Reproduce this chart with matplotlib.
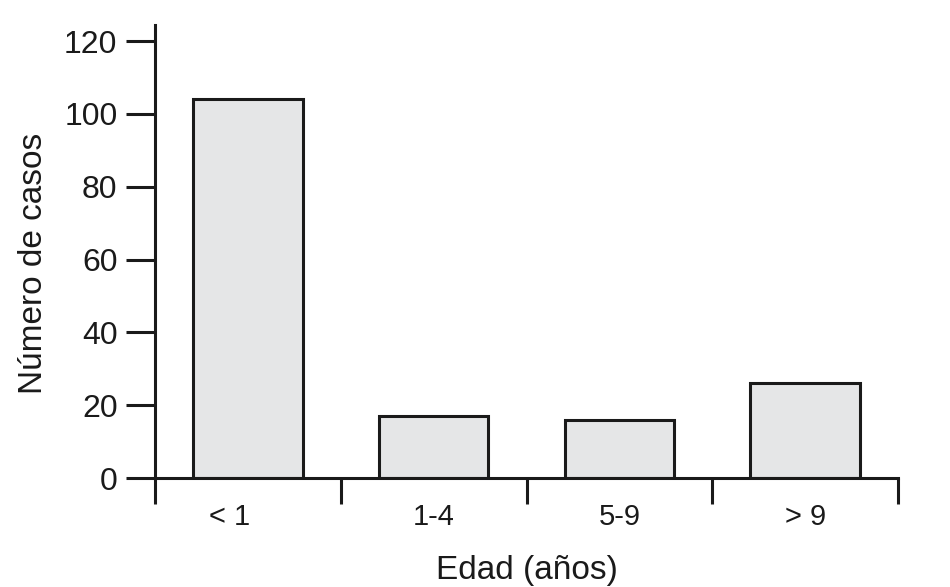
import matplotlib
matplotlib.use("Agg")
import matplotlib.pyplot as plt
import matplotlib.transforms as mtransforms
from matplotlib.ticker import FixedLocator

plt.rcParams['font.family'] = ['Liberation Sans', 'DejaVu Sans']

# data
categories = ['< 1', '1-4', '5-9', '> 9']
casos = [104, 17, 16, 26]

fig = plt.figure(figsize=(9.5, 5.87), dpi=100)
ax = fig.add_axes([155/950, 1-478/587, (898-155)/950, (478-25)/587])

x = range(len(categories))
ax.bar(x, casos, width=0.59, color='#e5e6e7', edgecolor='#1a1a1a', linewidth=2.2)

ax.set_xlim(-0.5, 3.5)
ax.set_ylim(0, 124.4)

ax.spines['top'].set_visible(False)
ax.spines['right'].set_visible(False)
for s in ('left', 'bottom'):
    ax.spines[s].set_linewidth(2.2)
    ax.spines[s].set_color('#1a1a1a')

ax.set_yticks(range(0, 121, 20))
ax.tick_params(axis='y', length=21, width=2.2, color='#1a1a1a', pad=6,
               labelsize=23, labelcolor='#1a1a1a')

ax.set_xticks(list(x))
ax.set_xticklabels(categories)
ax.tick_params(axis='x', which='major', length=0, pad=18, labelsize=21,
               labelcolor='#1a1a1a')
ax.xaxis.set_minor_locator(FixedLocator([-0.5, 0.5, 1.5, 2.5, 3.5]))
ax.tick_params(axis='x', which='minor', length=19, width=2.2, color='#1a1a1a')

# the first label sits a bit left of its bar in the original
lbl = ax.get_xticklabels()[0]
lbl.set_transform(lbl.get_transform() +
                  mtransforms.ScaledTranslation(-0.18, 0, fig.dpi_scale_trans))

ax.set_xlabel('Edad (años)', fontsize=24, color='#1a1a1a', labelpad=17)
ax.set_ylabel('Número de casos', fontsize=24, color='#1a1a1a')
ax.yaxis.set_label_coords(-0.143, 0.4735)

fig.savefig('out.png', dpi=100)
